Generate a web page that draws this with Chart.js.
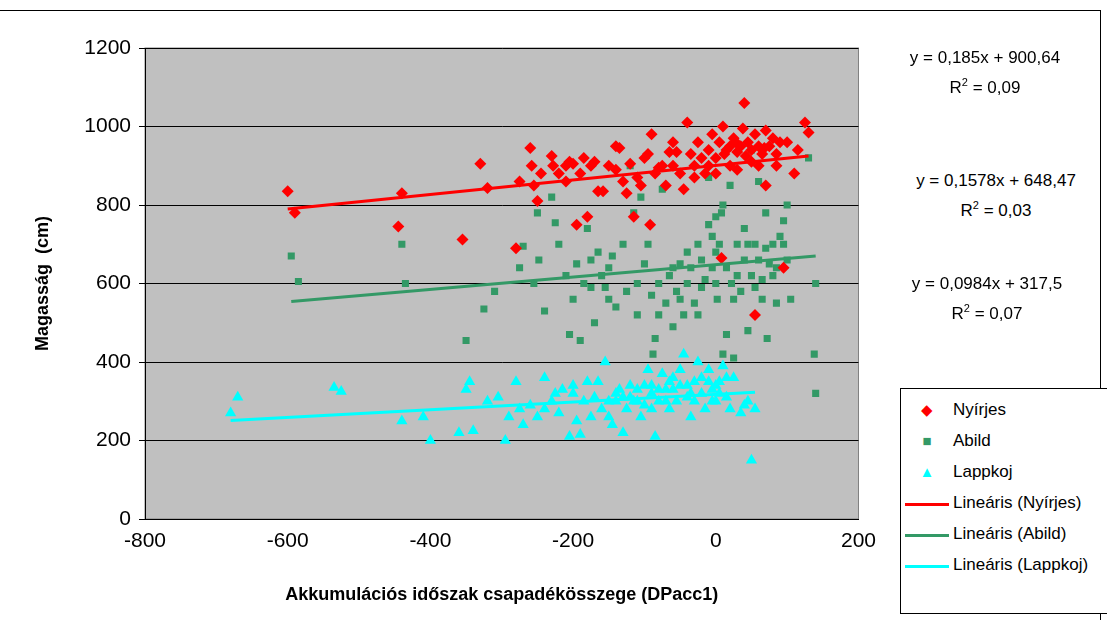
<!DOCTYPE html>
<html><head><meta charset="utf-8">
<script src="https://cdn.jsdelivr.net/npm/chart.js@4"></script>
<style>
body{margin:0;background:#fff;font-family:"Liberation Sans",Arial,sans-serif;}
#wrap{position:relative;width:1107px;height:620px;overflow:hidden;}
#frame{position:absolute;left:-2px;top:10px;width:1101px;height:640px;border:1px solid #000;}
canvas{position:absolute;left:0;top:0;}
.eq{position:absolute;font-size:17px;text-align:center;width:220px;line-height:24px;}
#legend{position:absolute;left:900px;top:388px;width:215px;height:224px;border:1px solid #000;background:#fff;font-size:17px;}
.li{position:absolute;left:0;height:30px;line-height:30px;}
.li span.s{display:inline-block;width:52px;text-align:center;font-size:15px;}
.ln{display:inline-block;width:44px;height:3px;vertical-align:middle;}
</style></head><body>
<div id="wrap">
<div id="frame"></div>
<canvas id="c" width="880" height="620"></canvas>
<div class="eq" style="left:875px;top:46px">y = 0,185x + 900,64<br>R<sup style="font-size:11px">2</sup> = 0,09</div>
<div class="eq" style="left:886px;top:169px">y = 0,1578x + 648,47<br>R<sup style="font-size:11px">2</sup> = 0,03</div>
<div class="eq" style="left:877px;top:272px">y = 0,0984x + 317,5<br>R<sup style="font-size:11px">2</sup> = 0,07</div>
<div id="legend">
<div class="li" style="top:6px"><span class="s" style="color:#f00">◆</span>Nyírjes</div>
<div class="li" style="top:37px"><span class="s" style="color:#339966">■</span>Abild</div>
<div class="li" style="top:68px"><span class="s" style="color:#0ff">▲</span>Lappkoj</div>
<div class="li" style="top:99px"><span class="s"><span class="ln" style="background:#f00"></span></span>Lineáris (Nyírjes)</div>
<div class="li" style="top:130px"><span class="s"><span class="ln" style="background:#339966"></span></span>Lineáris (Abild)</div>
<div class="li" style="top:161px"><span class="s"><span class="ln" style="background:#0ff"></span></span>Lineáris (Lappkoj)</div>
</div>
</div>
<script>
const nyirjes = [[-600,835],[-590,780],[-445,745],[-440,830],[-355,712],[-330,905],[-320,843],[-280,690],[-275,860],[-260,945],[-258,900],[-255,850],[-250,810],[-230,925],[-228,900],[-220,880],[-210,860],[-205,910],[-200,905],[-195,750],[-190,880],[-185,920],[-180,770],[-175,900],[-170,910],[-165,835],[-158,835],[-150,900],[-140,950],[-135,945],[-125,830],[-120,905],[-115,770],[-110,870],[-105,850],[-100,920],[-95,930],[-92,750],[-90,980],[-85,880],[-80,895],[-75,900],[-70,850],[-65,935],[-60,960],[-55,935],[-50,880],[-45,840],[-40,1010],[-35,930],[-30,900],[-25,960],[-20,920],[-15,880],[-10,940],[-5,980],[0,920],[5,960],[8,665],[10,1000],[15,940],[20,900],[25,970],[30,935],[35,950],[38,995],[40,1060],[45,960],[50,940],[55,520],[55,980],[60,900],[65,930],[70,990],[75,950],[80,970],[85,930],[90,960],[95,640],[100,960],[110,880],[115,940],[125,1010],[130,985],[20,950],[30,890],[50,910],[60,950],[-10,900],[0,880],[-140,890],[-130,860],[-60,900],[-30,870],[12,930],[28,960],[42,925],[68,945],[85,900],[-210,900],[-245,880],[70,850]];
const abild = [[-595,670],[-585,605],[-440,700],[-435,600],[-350,455],[-325,535],[-310,580],[-275,640],[-270,695],[-255,600],[-250,780],[-248,660],[-240,530],[-230,820],[-225,755],[-220,700],[-210,620],[-205,470],[-200,560],[-195,650],[-190,455],[-185,600],[-180,740],[-175,590],[-170,500],[-165,680],[-160,620],[-155,590],[-150,560],[-145,670],[-140,540],[-130,700],[-125,580],[-120,900],[-115,780],[-110,600],[-105,820],[-100,650],[-95,700],[-90,570],[-88,420],[-85,460],[-80,600],[-75,840],[-70,550],[-65,620],[-60,490],[-55,580],[-50,650],[-45,520],[-40,680],[-35,640],[-30,550],[-25,700],[-20,590],[-15,610],[-10,750],[-5,640],[0,600],[2,560],[5,700],[8,780],[10,420],[15,470],[20,850],[22,600],[25,410],[30,700],[35,580],[40,660],[45,480],[50,940],[55,700],[60,860],[65,610],[70,780],[72,460],[75,650],[80,700],[85,550],[90,720],[95,760],[100,800],[105,560],[130,920],[138,420],[140,320],[140,600],[-10,870],[10,800],[50,620],[80,620],[-60,640],[-40,600],[-20,660],[0,680],[15,640],[30,620],[45,700],[60,660],[70,690],[85,640],[95,700],[-80,520],[-50,560],[-25,520],[-5,720],[25,560],[40,740],[55,590],[100,660],[-110,520],[-150,640],[-175,660],[0,770],[65,560]];
const lappkoj = [[-680,270],[-670,310],[-535,335],[-525,325],[-440,250],[-410,260],[-400,200],[-360,220],[-350,330],[-345,350],[-340,225],[-320,300],[-305,310],[-295,200],[-290,260],[-280,350],[-275,280],[-270,240],[-260,290],[-250,260],[-240,360],[-230,300],[-220,270],[-215,330],[-205,210],[-200,340],[-195,250],[-190,215],[-185,300],[-180,350],[-175,260],[-170,310],[-165,350],[-160,280],[-155,400],[-150,260],[-145,240],[-140,300],[-135,330],[-130,220],[-125,280],[-120,340],[-115,300],[-110,330],[-105,260],[-100,290],[-95,380],[-90,340],[-85,210],[-80,300],[-75,370],[-70,330],[-65,280],[-60,360],[-55,300],[-50,340],[-45,420],[-40,310],[-35,260],[-30,350],[-25,400],[-20,320],[-15,280],[-10,380],[-5,330],[0,300],[5,350],[10,390],[15,310],[20,280],[25,360],[35,270],[40,290],[45,300],[50,150],[55,280],[-200,320],[-100,340],[-50,380],[-80,330],[-20,360],[-130,310],[-120,310],[-110,300],[-90,320],[-70,300],[-60,330],[-40,340],[-30,300],[-10,350],[0,340],[5,320],[15,360],[-140,320],[-150,300],[-90,280],[-65,350],[-35,320],[-5,300],[-240,280],[-225,320]];
const trendNyirjes = [[-600,790],[130,925]];
const trendAbild = [[-595,554],[140,670]];
const trendLappkoj = [[-680,251],[55,323]];

const pts = a => a.map(([x, y]) => ({ x, y }));
function scatter(data, color, style, r) {
  return { type: "scatter", data: pts(data), pointStyle: style, pointRadius: r, pointHoverRadius: r,
    backgroundColor: color, borderColor: color, borderWidth: 0 };
}
function trend(data, color) {
  return { type: "line", data: pts(data), borderColor: color, borderWidth: 3, pointRadius: 0, fill: false };
}

const bgPlugin = {
  id: "bg",
  beforeDraw(chart) {
    const { ctx, chartArea: a } = chart;
    ctx.save();
    ctx.fillStyle = "#c0c0c0";
    ctx.fillRect(a.left, a.top, a.right - a.left, a.bottom - a.top);
    ctx.strokeStyle = "#808080";
    ctx.lineWidth = 1;
    ctx.strokeRect(a.left, a.top, a.right - a.left, a.bottom - a.top);
    ctx.restore();
  }
};

const tickFont = { size: 21, family: "Liberation Sans" };
const titleFont = { size: 18, weight: "bold", family: "Liberation Sans" };

new Chart(document.getElementById("c"), {
  data: {
    datasets: [
      trend(trendNyirjes, "#ff0000"),
      trend(trendAbild, "#339966"),
      trend(trendLappkoj, "#00ffff"),
      scatter(nyirjes, "#ff0000", "rectRot", 6),
      scatter(abild, "#339966", "rect", 5),
      scatter(lappkoj, "#00ffff", "triangle", 6.5),
    ]
  },
  options: {
    responsive: false,
    animation: false,
    layout: { padding: { top: 48, right: 21, left: 28, bottom: 10 } },
    plugins: { legend: { display: false }, tooltip: { enabled: false } },
    scales: {
      x: {
        type: "linear", min: -800, max: 200,
        ticks: { stepSize: 200, color: "#000", font: tickFont, padding: 4, callback: v => String(v) },
        grid: { display: false, drawTicks: true, tickLength: 6, tickColor: "#000" },
        border: { color: "#000", width: 1 },
        title: { display: true, text: "Akkumulációs időszak csapadékösszege (DPacc1)", color: "#000",
          font: titleFont, padding: { top: 12 } },
        afterFit(s) { s.height = 91; }
      },
      y: {
        min: 0, max: 1200,
        ticks: { stepSize: 200, color: "#000", font: tickFont, padding: 8, callback: v => String(v) },
        grid: { color: "#000", tickLength: 6, tickColor: "#000" },
        border: { color: "#000", width: 1 },
        title: { display: true, text: "Magasság  (cm)", color: "#000", font: titleFont },
        afterFit(s) { s.width = 117; }
      }
    }
  },
  plugins: [bgPlugin]
});
</script>
</body></html>
